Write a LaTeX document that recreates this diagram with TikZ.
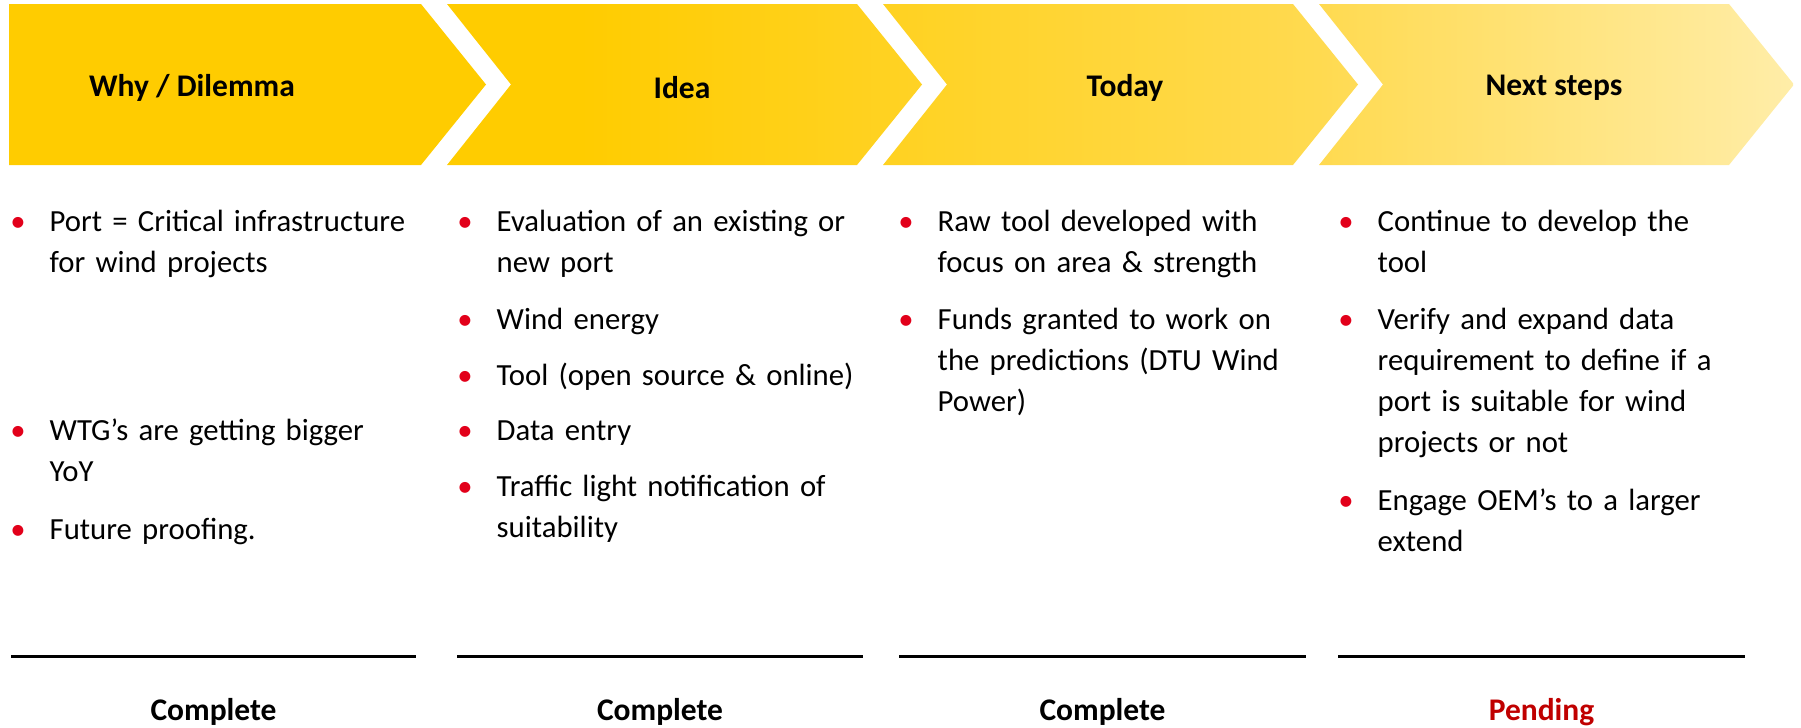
\documentclass[tikz,border=0pt]{standalone}
\usepackage{fontspec}
\setmainfont{Carlito}
\definecolor{chevgold}{HTML}{FFCC00}
\definecolor{chevmid}{HTML}{FFDA50}
\definecolor{chevpale}{HTML}{FFEDA8}
\definecolor{bulletred}{HTML}{E2001A}
\definecolor{pendred}{HTML}{C00000}
\pgfdeclarehorizontalshading{chevronfade}{100bp}{color(0bp)=(chevgold); color(41bp)=(chevgold); color(61.7bp)=(chevmid); color(75bp)=(chevpale); color(100bp)=(chevpale)}
\newcommand{\headfont}{\fontsize{8.96pt}{11.67pt}\selectfont\bfseries}
\newcommand{\bodyfont}{\fontsize{8.74pt}{11.67pt}\selectfont}
\newcommand{\bul}{\llap{\textcolor{bulletred}{\char"2022}\hspace{0.24cm}}}
\tikzset{
  head/.style={font=\headfont, inner sep=0pt},
  item/.style={font=\bodyfont, text width=4.2cm, align=left, anchor=base west, inner sep=0pt},
  status/.style={font=\headfont, anchor=base, inner sep=0pt},
  rule/.style={line width=0.03cm}
}
\begin{document}
\begin{tikzpicture}[x=0.01cm, y=-0.01cm]
    \useasboundingbox (0,0) rectangle (1801,727);
    % four chevrons, one shading clipped to all of them
    \begin{scope}
        \clip (9,4) -- (421,4) -- (486,84.5) -- (421,165) -- (9,165) -- cycle
            \foreach \o in {436,872,1308} {
                (11+\o,4) -- (421+\o,4) -- (486+\o,84.5) -- (421+\o,165) -- (11+\o,165) -- (75+\o,84.5) -- cycle};
        \shade[shading=chevronfade] (9,4) rectangle (1793,165);
    \end{scope}
    \node[head] (why) at (192,88) {Why / Dilemma};
    \node[head] (idea) at (682,88) {Idea};
    \node[head] (today) at (1125,88) {Today};
    \node[head] (next) at (1554,88) {Next steps};
    % first column
    \node[item] (why1) at (49,231) {\bul Port = Critical infrastructure\\for wind projects};
    \node[item] (why2) at (49,440) {\bul WTG’s are getting bigger\\YoY};
    \node[item] (why3) at (49,539) {\bul Future proofing.};
    % second column
    \node[item] (idea1) at (496,231) {\bul Evaluation of an existing or\\new port};
    \node[item] (idea2) at (496,329) {\bul Wind energy};
    \node[item] (idea3) at (496,385) {\bul Tool (open source \& online)};
    \node[item] (idea4) at (496,440) {\bul Data entry};
    \node[item] (idea5) at (496,496) {\bul Traffic light notification of\\suitability};
    % third column
    \node[item] (today1) at (937,231) {\bul Raw tool developed with\\focus on area \& strength};
    \node[item] (today2) at (937,329) {\bul Funds granted to work on\\the predictions (DTU Wind\\Power)};
    % fourth column
    \node[item] (next1) at (1377,231) {\bul Continue to develop the\\tool};
    \node[item] (next2) at (1377,329) {\bul Verify and expand data\\requirement to define if a\\port is suitable for wind\\projects or not};
    \node[item] (next3) at (1377,510) {\bul Engage OEM’s to a larger\\extend};
    % status under each column
    \draw[rule] (11,656) -- (416,656);
    \draw[rule] (457,656) -- (863,656);
    \draw[rule] (899,656) -- (1306,656);
    \draw[rule] (1338,656) -- (1745,656);
    \node[status] (st1) at (213.5,720) {Complete};
    \node[status] (st2) at (660,720) {Complete};
    \node[status] (st3) at (1102.5,720) {Complete};
    \node[status, text=pendred] (st4) at (1541.5,720) {Pending};
\end{tikzpicture}
\end{document}
